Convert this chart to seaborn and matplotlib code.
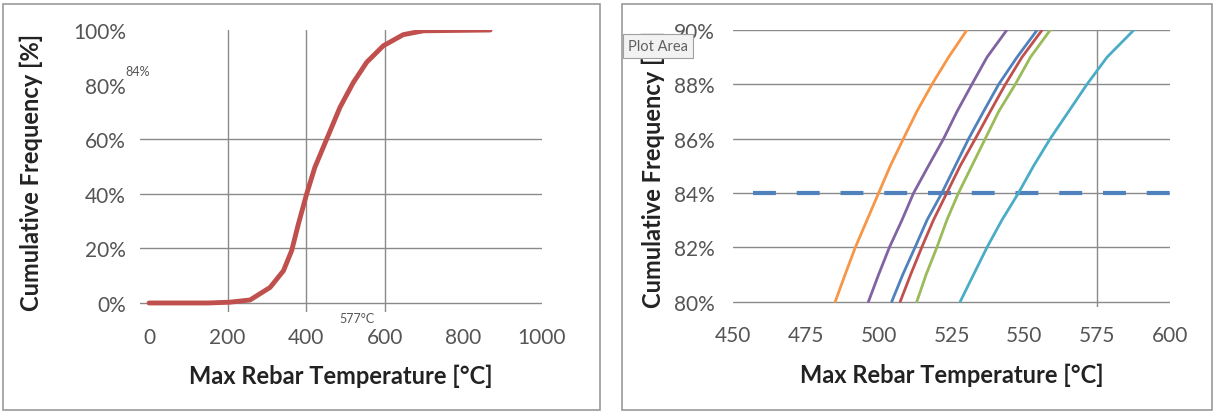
import numpy as np
import pandas as pd
import matplotlib
matplotlib.use("Agg")
import matplotlib.pyplot as plt
from matplotlib.patches import Rectangle
import seaborn as sns

# left panel: single cumulative curve
cdf_temp = [0, 150, 206, 257, 308, 342, 363, 380, 401, 422, 452, 486, 520, 554, 596, 647, 698, 868]
cdf_pct = [0, 0, 0.3, 1.1, 5.7, 11.8, 19.2, 28.9, 39.9, 49.7, 60, 71.7, 80.8, 88.2, 94.2, 98.3, 99.7, 100]

# right panel: zoom on 80-90 % for several runs
zoom_pct = [80, 81, 82, 83, 84, 85, 86, 87, 88, 89, 90]
run_orange = [485.1, 488.5, 492.0, 496.0, 500.0, 504.0, 508.5, 513.1, 518.3, 524.0, 530.3]
run_purple = [496.5, 500.0, 503.7, 508.0, 512.0, 517.1, 522.3, 526.9, 532.0, 537.2, 544.0]
run_blue = [504.5, 508.3, 512.5, 516.6, 521.7, 526.3, 530.9, 536.0, 541.2, 547.5, 554.4]
run_red = [507.4, 511.0, 514.8, 518.8, 523.4, 528.0, 533.2, 538.3, 543.5, 549.2, 556.1]
run_green = [513.1, 516.3, 520.0, 523.4, 527.4, 532.0, 536.6, 541.2, 546.9, 552.1, 558.9]
run_aqua = [528.0, 532.6, 537.2, 542.3, 548.0, 553.2, 558.9, 565.2, 571.5, 578.4, 587.6]
run_names = ["orange", "purple", "blue", "red", "green", "aqua"]
run_colors = ["#F79646", "#8064A2", "#4F81BD", "#C0504D", "#9BBB59", "#4BACC6"]

ref_x = [457, 600]
ref_y = [84, 84]

sns.set_style("white")
plt.rcParams['font.family'] = ['Lato', 'DejaVu Sans']

fig = plt.figure(figsize=(12.15, 4.14), dpi=100)

# panel frames
W, H = 1215, 414
for x0, x1 in [(3, 600), (622, 1212)]:
    fig.patches.append(Rectangle((x0 / W, 3 / H), (x1 - x0) / W, 406 / H, transform=fig.transFigure,
                                 fill=False, edgecolor="#9a9a9a", lw=1.2))

grid_c = "#8a8a8a"
tick_c = "#555555"

# ---------------- left
ax1 = fig.add_axes([140 / W, 1 - 313 / H, 402 / W, 282 / H])
left_df = pd.DataFrame({"temp": cdf_temp, "pct": cdf_pct})
for yv in [0, 20, 40, 60]:
    ax1.axhline(yv, color=grid_c, lw=1, zorder=0)
for xv in [200, 400, 600]:
    ax1.plot([xv, xv], [-3.3, 100], color=grid_c, lw=1, zorder=0)
sns.lineplot(data=left_df, x="temp", y="pct", ax=ax1, color="#C0504D", lw=3.5, sort=False)
ax1.set_xlim(-23, 1000)
ax1.set_ylim(-3.3, 100)
ax1.set_xticks([0, 200, 400, 600, 800, 1000])
ax1.set_yticks([0, 20, 40, 60, 80, 100])
ax1.set_yticklabels([f"{v}%" for v in [0, 20, 40, 60, 80, 100]])
ax1.text(1, 85, "84%", fontsize=9, color=tick_c, ha="right", va="center", clip_on=False)
ax1.text(529, -5.5, "577°C", fontsize=9, color=tick_c, ha="center", va="center", clip_on=False)

# ---------------- right
ax2 = fig.add_axes([733 / W, 1 - 308 / H, 437 / W, 277 / H])
runs = [run_orange, run_purple, run_blue, run_red, run_green, run_aqua]
right_df = pd.concat([pd.DataFrame({"temp": r, "pct": zoom_pct, "run": n}) for r, n in zip(runs, run_names)])
for yv in [80, 82, 84, 86, 88, 90]:
    ax2.axhline(yv, color=grid_c, lw=1, zorder=0)
ax2.plot([575, 575], [79.8, 90], color=grid_c, lw=1, zorder=0)
sns.lineplot(data=right_df, x="temp", y="pct", hue="run", palette=dict(zip(run_names, run_colors)),
             ax=ax2, lw=2, sort=False, legend=False)
ax2.plot(ref_x, ref_y, color="#4F81BD", lw=3, linestyle=(0, (5.5, 5)), zorder=1)
ax2.set_xlim(450, 600)
ax2.set_ylim(79.8, 90)
ax2.set_xticks([450, 475, 500, 525, 550, 575, 600])
ax2.set_yticks([80, 82, 84, 86, 88, 90])
ax2.set_yticklabels([f"{v}%" for v in [80, 82, 84, 86, 88, 90]])

for ax, xpad, ypad, lpad in [(ax1, 11, 10, 12), (ax2, 13, 13, 13)]:
    for s in ax.spines.values():
        s.set_visible(False)
    ax.tick_params(axis="x", length=0, pad=xpad, labelsize=15, labelcolor=tick_c)
    ax.tick_params(axis="y", length=0, pad=ypad, labelsize=15, labelcolor=tick_c)
    ax.set_xlabel("Max Rebar Temperature [°C]", fontsize=17, fontweight="bold", color="#222222", labelpad=lpad)
    ax.set_ylabel("Cumulative Frequency [%]", fontsize=17, fontweight="bold", color="#222222")

ax1.yaxis.set_label_coords(-97 / 402, 0.5)
ax2.yaxis.set_label_coords(-68 / 437, 0.5)

# tooltip box over the right chart
fig.text(628 / W, 1 - 47 / H, "Plot Area", fontsize=10.5, color="#606060", ha="left", va="center", zorder=10,
         bbox=dict(boxstyle="square,pad=0.35", facecolor="#f2f2f2", edgecolor="#a0a0a0", lw=0.8))

fig.savefig("out.png", dpi=100)
